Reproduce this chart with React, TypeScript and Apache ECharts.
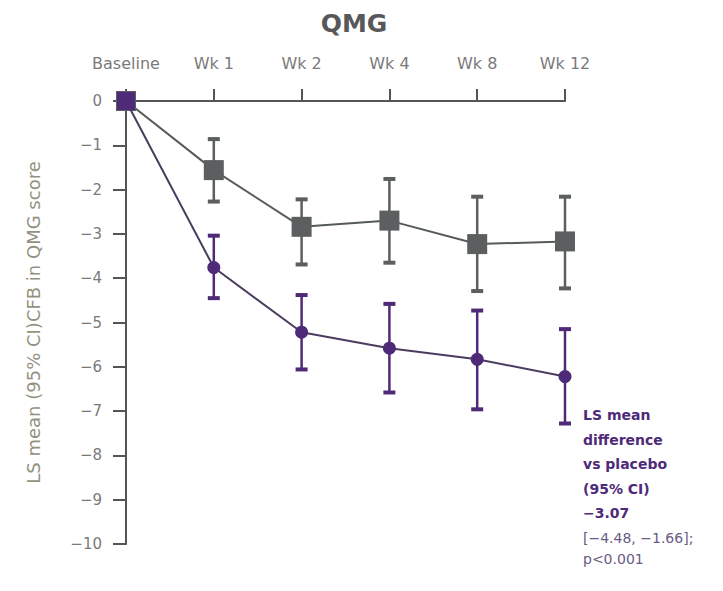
import React, { useEffect, useRef } from "react";
import * as echarts from "echarts";

const categories = ["Baseline", "Wk 1", "Wk 2", "Wk 4", "Wk 8", "Wk 12"];
const placeboMean = [0, -1.56, -2.84, -2.7, -3.23, -3.17];
const placeboLow = [0, -2.27, -3.69, -3.65, -4.29, -4.23];
const placeboHigh = [0, -0.86, -2.22, -1.76, -2.16, -2.16];
const drugMean = [0, -3.76, -5.22, -5.58, -5.83, -6.22];
const drugLow = [0, -4.45, -6.06, -6.58, -6.96, -7.28];
const drugHigh = [0, -3.04, -4.38, -4.58, -4.73, -5.15];
const yTicks = { min: -10, max: 0, interval: 1 };

const GRAY = "#5b5f5f";
const PURPLE = "#4e2a78";

function errorData(low: number[], high: number[]) {
  return categories
    .map((_, i) => [i, low[i], high[i]])
    .filter((d) => d[1] !== d[2]);
}

function errorRender(color: string) {
  return (params: any, api: any) => {
    const x = api.value(0);
    const lo = api.coord([x, api.value(1)]);
    const hi = api.coord([x, api.value(2)]);
    const w = 6;
    return {
      type: "group",
      children: [
        {
          type: "line",
          shape: { x1: lo[0], y1: lo[1], x2: hi[0], y2: hi[1] },
          style: { stroke: color, lineWidth: 2.5 },
        },
        {
          type: "line",
          shape: { x1: lo[0] - w, y1: lo[1], x2: lo[0] + w, y2: lo[1] },
          style: { stroke: color, lineWidth: 4 },
        },
        {
          type: "line",
          shape: { x1: hi[0] - w, y1: hi[1], x2: hi[0] + w, y2: hi[1] },
          style: { stroke: color, lineWidth: 4 },
        },
      ],
    };
  };
}

export default function App() {
  const ref = useRef<HTMLDivElement>(null);
  useEffect(() => {
    if (!ref.current) return;
    document.body.style.margin = "0";
    const chart = echarts.init(ref.current, null, { renderer: "svg" });
    const font = "DejaVu Sans";
    chart.setOption({
      animation: false,
      backgroundColor: "#ffffff",
      title: {
        text: "QMG",
        left: 349,
        top: 6,
        textAlign: "center",
        textStyle: { fontFamily: font, fontSize: 25, fontWeight: "bold", color: "#58585a" },
      },
      grid: { left: 126, right: 158, top: 101, bottom: 47 },
      xAxis: {
        type: "category",
        data: categories,
        position: "top",
        boundaryGap: false,
        axisLine: { lineStyle: { color: "#555555", width: 2 } },
        axisTick: { show: true, interval: 0, length: 12, lineStyle: { color: "#555555", width: 2 } },
        axisLabel: {
          interval: 0,
          hideOverlap: false,
          fontFamily: font,
          fontSize: 16,
          color: "#7a7a7a",
          margin: 30,
        },
        splitLine: { show: false },
      },
      yAxis: {
        type: "value",
        min: yTicks.min,
        max: yTicks.max,
        interval: yTicks.interval,
        name: "LS mean (95% CI)CFB in QMG score",
        nameLocation: "middle",
        nameGap: 84,
        nameTextStyle: { fontFamily: font, fontSize: 18, color: "#92927f" },
        axisLine: { show: true, lineStyle: { color: "#555555", width: 2 } },
        axisTick: { show: true, length: 13, lineStyle: { color: "#555555", width: 2 } },
        axisLabel: {
          fontFamily: font,
          fontSize: 15,
          color: "#7a7a7a",
          margin: 24,
          formatter: (v: number) => String(v).replace("-", "\u2212"),
        },
        splitLine: { show: false },
      },
      series: [
        {
          type: "custom",
          renderItem: errorRender(GRAY),
          data: errorData(placeboLow, placeboHigh),
          z: 2,
        },
        {
          type: "custom",
          renderItem: errorRender(PURPLE),
          data: errorData(drugLow, drugHigh),
          z: 2,
        },
        {
          type: "line",
          data: placeboMean,
          symbol: "rect",
          symbolSize: 20,
          lineStyle: { color: "#555a5a", width: 2 },
          itemStyle: { color: GRAY },
          z: 3,
        },
        {
          type: "line",
          data: drugMean.map((v, i) =>
            i === 0 ? { value: v, symbol: "rect", symbolSize: 18 } : v
          ),
          symbol: "circle",
          symbolSize: 13,
          lineStyle: { color: "#4a3c5e", width: 2 },
          itemStyle: { color: PURPLE },
          z: 4,
        },
      ],
      graphic: [
        {
          type: "text",
          left: 583,
          top: 403,
          style: {
            text: "LS mean\ndifference\nvs placebo\n(95% CI)\n\u22123.07",
            fontFamily: font,
            fontSize: 14,
            fontWeight: "bold",
            lineHeight: 24.5,
            fill: PURPLE,
          },
        },
        {
          type: "text",
          left: 583,
          top: 527,
          style: {
            text: "[\u22124.48, \u22121.66];\np<0.001",
            fontFamily: font,
            fontSize: 14,
            lineHeight: 21,
            fill: "#6a5a86",
          },
        },
      ],
    });
    return () => chart.dispose();
  }, []);
  return <div ref={ref} style={{ width: 723, height: 591 }} />;
}
